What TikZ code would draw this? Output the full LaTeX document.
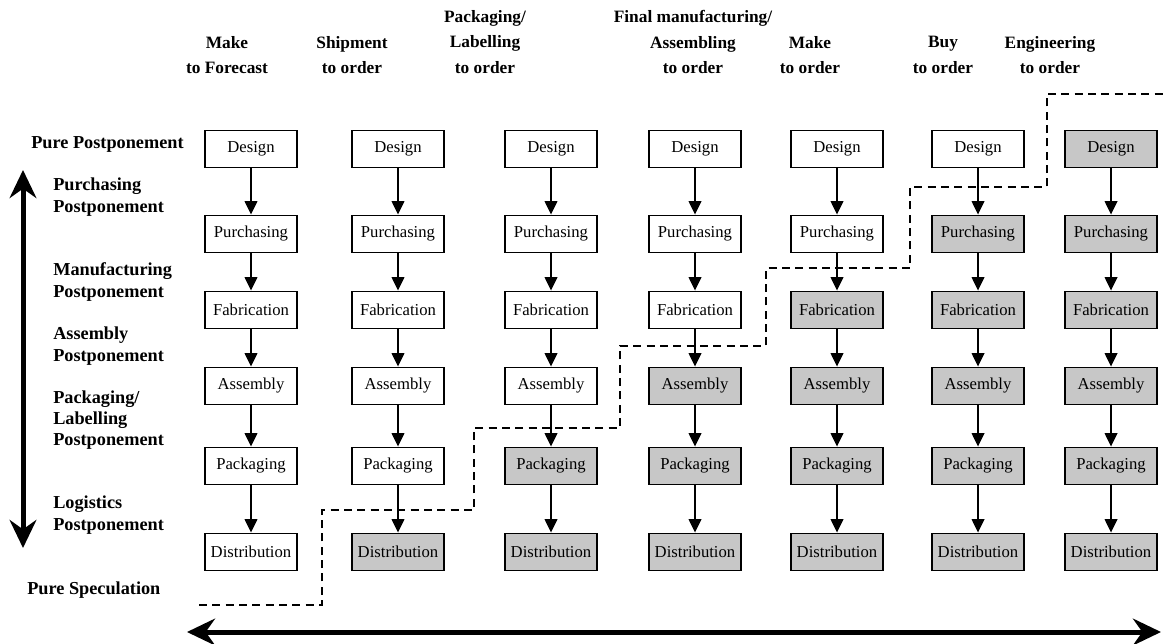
\documentclass[tikz,border=0pt]{standalone}
\usepackage{fontspec}
\setmainfont{Liberation Serif}
\usetikzlibrary{arrows.meta}

\begin{document}
\begin{tikzpicture}
[x=0.75pt,y=-0.75pt,
box/.style={draw,line width=1.2pt,minimum width=69pt,minimum height=28pt,inner sep=2pt,font=\fontsize{12.5}{14}\selectfont},
open/.style={box,fill=white},
done/.style={box,fill=black!22},
head/.style={align=center,inner sep=0pt,font=\bfseries\fontsize{13}{19}\selectfont},
side/.style={align=left,anchor=west,inner sep=0pt,font=\bfseries\fontsize{13.7}{16}\selectfont},
flow/.style={-{Triangle[length=10pt,width=9.5pt]},line width=1pt},
cut/.style={line width=1.1pt,dash pattern=on 6pt off 4pt},
big/.style={{Stealth[length=21pt,width=20pt,inset=7pt]}-{Stealth[length=21pt,width=20pt,inset=7pt]},line width=3.75pt}]
\useasboundingbox (0,0) rectangle (1164,643);

% column headings
\node[head] (h1) at (227,55) {Make\\to Forecast};
\node[head] (h2) at (352,55) {Shipment\\to order};
\node[head] (h3) at (485,42) {Packaging/\\Labelling\\to order};
\node[head] (h4) at (693,42) {Final manufacturing/\\Assembling\\to order};
\node[head] (h5) at (810,55) {Make\\to order};
\node[head] (h6) at (943,55) {Buy\\to order};
\node[head] (h7) at (1050,55) {Engineering\\to order};

% postponement levels
\node[side] (pp) at (31,144) {Pure Postponement};
\node[side] (pu) at (53,197) {Purchasing\\Postponement};
\node[side] (ma) at (53,282) {Manufacturing\\Postponement};
\node[side] (as) at (53,346) {Assembly\\Postponement};
\node[side] (pa) at (53,420) {Packaging/\\Labelling\\Postponement};
\node[side] (lo) at (53,515) {Logistics\\Postponement};
\node[side] (ps) at (27,590) {Pure Speculation};

% process columns
\foreach \c/\x/\k in {1/251/7,2/398/6,3/551/5,4/695/4,5/837/3,6/978/2,7/1111/1}{
  \foreach \r/\y/\t in {1/149/Design,2/234/Purchasing,3/310/Fabrication,4/386/Assembly,5/466/Packaging,6/552/Distribution}{
    \ifnum\r<\k \def\st{open}\else\def\st{done}\fi
    \node[\st] (n\c\r) at (\x,\y) {\t};
  }
  \foreach \r in {1,...,5}{
    \pgfmathtruncatemacro\s{\r+1}
    \draw[flow] (n\c\r) -- (n\c\s);
  }
}

% decoupling point
\draw[cut] (199,605) -| (322,510) -| (474,428) -| (620,346) -| (766,268) -| (910,187) -| (1047,94) -- (1164,94);

% axes
\coordinate (top) at (23,170);
\coordinate (bot) at (23,548);
\draw[big] (bot) -- (top);
\coordinate (lft) at (187,632);
\coordinate (rgt) at (1161,632);
\draw[big] (lft) -- (rgt);
\end{tikzpicture}
\end{document}
